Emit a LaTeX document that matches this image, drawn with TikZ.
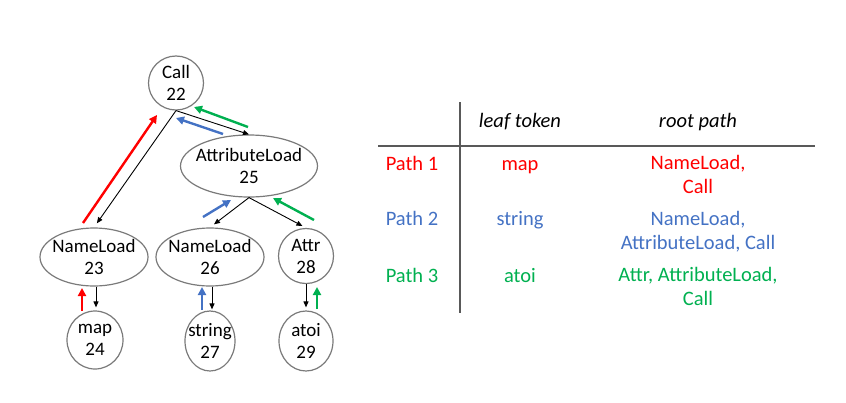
\documentclass[tikz,border=0pt]{standalone}
\usepackage{fontspec}
\setmainfont{Carlito}
\usepackage{tikz}
\usetikzlibrary{shapes.geometric,arrows.meta}
\definecolor{pathred}{HTML}{FF0000}
\definecolor{pathblue}{HTML}{4472C4}
\definecolor{pathgreen}{HTML}{00B050}
\definecolor{rim}{HTML}{7A7A7A}
\definecolor{rule}{HTML}{595959}

\begin{document}
\begin{tikzpicture}[x=1pt, y=-1pt,
  ast/.style={ellipse, draw=rim, line width=1.2pt, inner xsep=-5pt, inner ysep=0pt,
    align=center, font=\fontsize{19}{22}\selectfont},
  down/.style={-{Triangle[length=6pt,width=5pt]}, line width=0.9pt},
  up/.style={-{Triangle[length=8pt,width=8pt]}, line width=2.4pt, draw=#1},
  cell/.style={align=center, font=\fontsize{20.5}{24}\selectfont},
  head/.style={cell, font=\fontsize{20.5}{24}\selectfont\itshape}]
  \useasboundingbox (0,0) rectangle (846,402);

  % the tree
  \node[ast, minimum width=55pt, minimum height=54pt] (call) at (176,83) {Call\\22};
  \node[ast, minimum width=137pt, minimum height=62pt] (attrload) at (249,166) {AttributeLoad\\25};
  \node[ast, minimum width=108pt, minimum height=58pt] (nameA) at (94,257) {NameLoad\\23};
  \node[ast, minimum width=108pt, minimum height=58pt] (nameB) at (210,257) {NameLoad\\26};
  \node[ast, minimum width=55pt, minimum height=55pt] (attr) at (306,256) {Attr\\28};
  \node[ast, minimum width=56pt, minimum height=58pt] (map) at (95,340) {map\\24};
  \node[ast, minimum width=50pt, minimum height=60pt] (string) at (210,341) {string\\27};
  \node[ast, minimum width=54pt, minimum height=60pt] (atoi) at (306,341) {atoi\\29};

  \path[down]
  (call.south) edge[shorten >=5pt] (nameA.north)
  (call.south) edge (attrload.north)
  (attrload.south) edge[shorten >=5pt] (nameB.north)
  (attrload.south) edge[shorten >=4pt] (attr.north)
  ([xshift=2pt]nameA.south) edge[shorten >=3pt] ([xshift=1pt]map.north)
  ([xshift=2pt]nameB.south) edge[shorten >=1pt] ([xshift=2pt]string.north)
  (attr.south) edge[shorten >=3pt] (atoi.north)
  ;

  % the three root paths
  \coordinate (redA0) at (83,223);  \coordinate (redA1) at (157,115);
  \coordinate (redB0) at (82,311);  \coordinate (redB1) at (82,288);
  \coordinate (blueA0) at (223,134); \coordinate (blueA1) at (176,118);
  \coordinate (blueB0) at (203,217); \coordinate (blueB1) at (231,200);
  \coordinate (blueC0) at (202,310); \coordinate (blueC1) at (202,287);
  \coordinate (greenA0) at (248,127); \coordinate (greenA1) at (194,107);
  \coordinate (greenB0) at (314,220); \coordinate (greenB1) at (273,198);
  \coordinate (greenC0) at (317,309); \coordinate (greenC1) at (317,287);
  \draw[up=pathred] (redA0) -- (redA1);
  \draw[up=pathred] (redB0) -- (redB1);
  \draw[up=pathblue] (blueA0) -- (blueA1);
  \draw[up=pathblue] (blueB0) -- (blueB1);
  \draw[up=pathblue] (blueC0) -- (blueC1);
  \draw[up=pathgreen] (greenA0) -- (greenA1);
  \draw[up=pathgreen] (greenB0) -- (greenB1);
  \draw[up=pathgreen] (greenC0) -- (greenC1);

  % the table
  \draw[rule, line width=1.3pt] (460,102) -- (460,313);
  \draw[rule, line width=1.3pt] (378,146) -- (815,146);
  \node[head, anchor=base] (leafhead) at (520,127) {leaf token};
  \node[head, anchor=base] (roothead) at (698,127) {root path};
  \node[cell, anchor=base, text=pathred] (path1) at (412,170) {Path 1};
  \node[cell, anchor=base, text=pathred] (leaf1) at (520,170) {map};
  \node[cell, text=pathred] (root1) at (698,174.7) {NameLoad,\\Call};
  \node[cell, anchor=base, text=pathblue] (path2) at (412,225) {Path 2};
  \node[cell, anchor=base, text=pathblue] (leaf2) at (520,225) {string};
  \node[cell, text=pathblue] (root2) at (698,231.5) {NameLoad,\\AttributeLoad, Call};
  \node[cell, anchor=base, text=pathgreen] (path3) at (412,282) {Path 3};
  \node[cell, anchor=base, text=pathgreen] (leaf3) at (520,282) {atoi};
  \node[cell, text=pathgreen] (root3) at (698,286) {Attr, AttributeLoad,\\Call};
\end{tikzpicture}
\end{document}
